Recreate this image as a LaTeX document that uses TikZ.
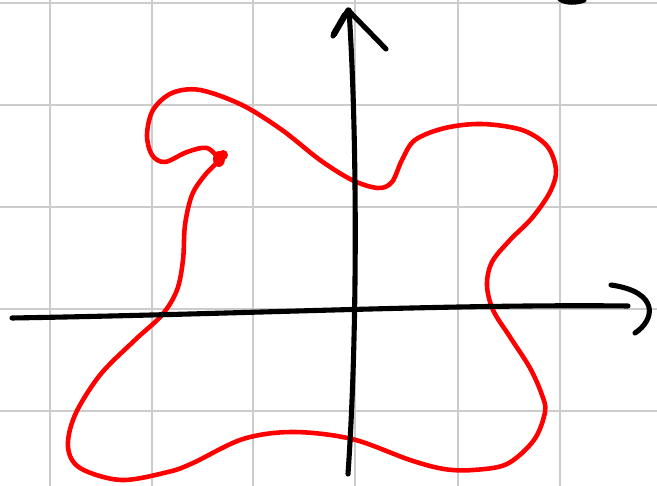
\documentclass[tikz,border=0pt]{standalone}
\usepackage{tikz}
\usetikzlibrary{positioning}
\tikzset{gridline/.style = {draw=gray!40, line width=1.6pt}}
\tikzset{axisline/.style = {draw=black, line width=2.9pt, line cap=round, line join=round}}
\tikzset{curveline/.style = {draw=red, line width=2.6pt, line cap=round, line join=round}}
\tikzset{every picture/.style={x=0.02cm, y=-0.02cm}}

\begin{document}
\begin{tikzpicture}
      \useasboundingbox (0,0) rectangle (657,486);
      % grid
      \foreach \gx in {50,152,253,355,458,560}
        \draw[gridline] (\gx,0) -- (\gx,486);
      \foreach \gy in {3,105,207,309,411}
        \draw[gridline] (0,\gy) -- (657,\gy);
      % the closed-ish curve
      \draw[curveline] plot[smooth, tension=0.55] coordinates {
        (220,160) (205,175) (192,195) (185,225) (183,260) (177,290)
        (162,315) (135,340) (100,375) (75,415) (68,447) (80,468)
        (121,480) (168,472) (193,463) (243,439) (293,432) (352,439)
        (410,460) (444,469) (473,470) (507,464) (534,440) (545,412)
        (542,395) (530,368) (510,337) (493,310) (487,285) (492,262)
        (510,240) (532,218) (550,192) (556,170) (547,146) (522,130)
        (482,124) (445,128) (415,140) (402,160) (392,182) (378,188)
        (352,180) (320,160) (282,130) (242,105) (200,90) (172,93)
        (153,110) (147,135) (152,155) (165,162) (187,152) (207,148)
        (220,160)};
      \fill[red] (219,159) ellipse (6 and 8);
      \fill[red] (223,155) circle (5);
      % axes
      \coordinate (xs) at (12,318);
      \coordinate (xe) at (628,306);
      \coordinate (ys) at (348,474);
      \coordinate (ye) at (349,10);
      \draw[axisline] (xs) .. controls (250,314) and (450,304) .. (xe);
      \draw[axisline] (ys) .. controls (358,330) and (357,130) .. (ye);
      \draw[axisline] (333,36) -- (348,10) -- (386,49);
      \draw[axisline, line width=3.6pt] (334,34) -- (345,15);
      \draw[axisline] (611,285) .. controls (660,292) and (655,320) .. (635,333);
      % bit of a mark cut off at the top
      \draw[axisline, line width=3pt] (560,-1) .. controls (566,3) and (576,3) .. (584,0);
\end{tikzpicture}
\end{document}
